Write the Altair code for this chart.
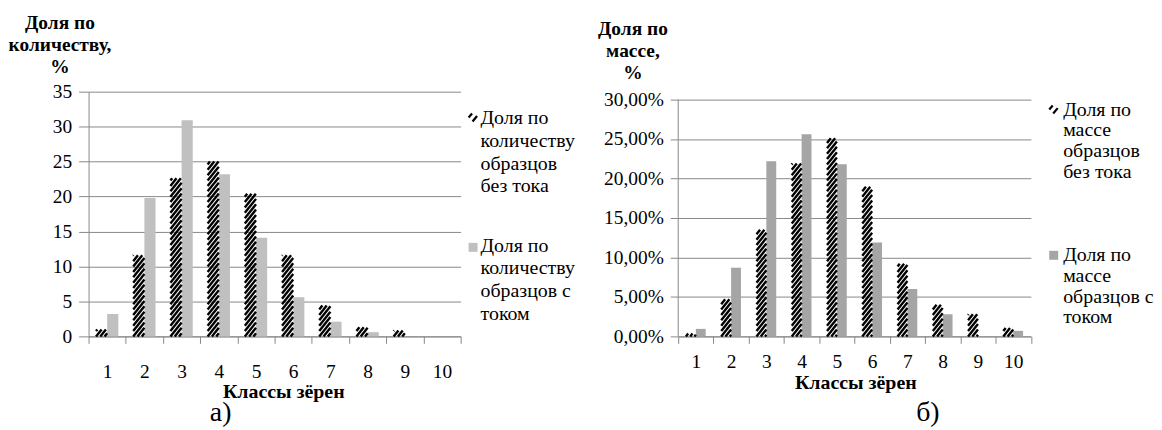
import math
import altair as alt
import pandas as pd

# ---------------- data ----------------
classes = [1, 2, 3, 4, 5, 6, 7, 8, 9, 10]
count_no_current = [1.0, 11.6, 22.6, 25.0, 20.4, 11.6, 4.4, 1.3, 0.85, 0.0]
count_current = [3.2, 19.8, 30.9, 23.2, 14.1, 5.6, 2.1, 0.6, 0.0, 0.0]
mass_no_current = [0.35, 4.7, 13.5, 21.9, 25.1, 18.95, 9.2, 4.0, 2.8, 1.05]
mass_current = [0.95, 8.7, 22.2, 25.6, 21.8, 11.9, 6.0, 2.8, 0.0, 0.7]

left_y_ticks = [0, 5, 10, 15, 20, 25, 30, 35]
right_y_ticks = [0, 5, 10, 15, 20, 25, 30]
x_boundaries = [0.5, 1.5, 2.5, 3.5, 4.5, 5.5, 6.5, 7.5, 8.5, 9.5, 10.5]

x_title = "Классы зёрен"
left_y_title = ["Доля по", "количеству,", "%"]
right_y_title = ["Доля по", "массе,", "%"]
left_legend = ["Доля по\nколичеству\nобразцов\nбез тока", "Доля по\nколичеству\nобразцов с\nтоком"]
right_legend = ["Доля по\nмассе\nобразцов\nбез тока", "Доля по\nмассе\nобразцов с\nтоком"]
left_caption = "а)"
right_caption = "б)"

FONT = "Liberation Serif"
GRID = "#888888"
H = 246


def stripes(vals, bw, kx, ky, period=5.4, slope=1.25):
    rows = []
    wpx = bw * kx
    for c, v in zip(classes, vals):
        hpx = v * ky
        if hpx <= 0:
            continue
        n = math.floor(-slope * wpx / period)
        while n * period <= hpx:
            h = n * period
            xs = max(0.0, -h / slope)
            xe = min(wpx, (hpx - h) / slope)
            if xe > xs + 0.4:
                rows.append({"x": c - bw + xs / kx, "y": (h + slope * xs) / ky,
                             "x2": c - bw + xe / kx, "y2": (h + slope * xe) / ky})
            n += 1
    return pd.DataFrame(rows)


def text_layer(text, x, y, size, align="left", lh=None, baseline="alphabetic"):
    kw = dict(font=FONT, fontSize=size, align=align, baseline=baseline,
              lineBreak="\n", color="black")
    if lh:
        kw["lineHeight"] = lh
    return alt.Chart(pd.DataFrame({"t": [text]})).mark_text(**kw).encode(
        x=alt.value(x), y=alt.value(y), text="t:N")


def panel(no_cur, cur, W, ymax, yticks, yfmt, gray, bw, tick_y, label_pad_x,
          title_x, title_y, ytitle, ytitle_x, ytitle_y, legend, leg_x, leg_y, leg_lh,
          mark_x, hatch_y, sq_y, caption, cap_x, axis_domain):
    kx = W / 10.0
    ky = H / ymax
    xscale = alt.Scale(domain=[0.5, 10.5], nice=False, zero=False)
    yscale = alt.Scale(domain=[0, ymax], nice=False)
    xaxis = alt.Axis(values=x_boundaries, title=x_title, grid=False, tickSize=7,
                     labelExpr="datum.value < 10 ? format(datum.value + 0.5, 'd') : ''",
                     labelOffset=kx / 2, labelFlush=False, labelOverlap=False,
                     labelBaseline="middle", labelPadding=label_pad_x,
                     titleX=title_x, titleY=title_y, titleAlign="center",
                     titleBaseline="alphabetic")
    yaxis = alt.Axis(values=yticks, title=ytitle, grid=True, tickSize=tick_y,
                     labelPadding=7, labelExpr=yfmt, domain=axis_domain,
                     labelOverlap=False, labelFlush=False,
                     titleAngle=0, titleAlign="center", titleBaseline="alphabetic",
                     titleX=ytitle_x, titleY=ytitle_y, titleLineHeight=22,
                     titleFontSize=19.5)

    gdf = pd.DataFrame({"x0": classes, "x1": [c + bw for c in classes], "v": cur})
    gdf["z"] = 0.0
    bars = alt.Chart(gdf).mark_rect(color=gray).encode(
        x=alt.X("x0:Q", scale=xscale, axis=xaxis), x2="x1:Q",
        y=alt.Y("z:Q", scale=yscale, axis=yaxis), y2="v:Q")

    sdf = stripes(no_cur, bw, kx, ky)
    hatch = alt.Chart(sdf).mark_rule(color="black", strokeWidth=2.4, strokeCap="butt").encode(
        x=alt.X("x:Q", scale=xscale, axis=xaxis), x2="x2:Q",
        y=alt.Y("y:Q", scale=yscale, axis=yaxis), y2="y2:Q")

    layers = [bars, hatch]
    if not axis_domain:
        ddf = pd.DataFrame({"x": [0.5], "y": [0.0], "y2": [float(yticks[-1])]})
        layers.append(alt.Chart(ddf).mark_rule(color=GRID, strokeWidth=1).encode(
            x=alt.X("x:Q", scale=xscale, axis=xaxis),
            y=alt.Y("y:Q", scale=yscale, axis=yaxis), y2="y2:Q"))

    one = pd.DataFrame({"a": [0]})
    # legend markers
    layers.append(alt.Chart(one).mark_rule(color="black", strokeWidth=2.2).encode(
        x=alt.value(mark_x), x2=alt.value(mark_x + 3.5),
        y=alt.value(hatch_y + 4), y2=alt.value(hatch_y)))
    layers.append(alt.Chart(one).mark_rule(color="black", strokeWidth=2.2).encode(
        x=alt.value(mark_x + 4), x2=alt.value(mark_x + 8.5),
        y=alt.value(hatch_y + 8), y2=alt.value(hatch_y + 2.5)))
    layers.append(alt.Chart(one).mark_rect(color=gray).encode(
        x=alt.value(mark_x), x2=alt.value(mark_x + 9),
        y=alt.value(sq_y), y2=alt.value(sq_y + 9)))
    layers.append(text_layer(legend[0], leg_x, leg_y[0], 20, lh=leg_lh))
    layers.append(text_layer(legend[1], leg_x, leg_y[1], 20, lh=leg_lh))
    layers.append(text_layer(caption, cap_x, 323, 28, align="center", baseline="middle"))
    return alt.layer(*layers).properties(width=W, height=H)


left = panel(count_no_current, count_current, 374, 35, left_y_ticks,
             "format(datum.value, 'd')", "#c0c0c0", 0.3, 10, 28,
             195.7, 61.3, left_y_title, -29.3, -63, left_legend, 394, [33, 161], 22.7,
             382, 22, 152, left_caption, 132.7, True)

right = panel(mass_no_current, mass_current, 354.5, 31, right_y_ticks,
              "replace(format(datum.value, '.2f'), '.', ',') + '%'", "#a5a5a5", 0.28, 8, 18.5,
              178, 52.3, right_y_title, -46, -57.7, right_legend, 387, [24, 170], 21,
              373, 14, 160, right_caption, 251, False)

chart = alt.hconcat(left, right, spacing=218.7, bounds="flush").properties(
    padding={"left": 0, "top": 4, "right": 0, "bottom": 0}
).configure_view(stroke=None).configure_axis(
    labelFont=FONT, labelFontSize=19.5, labelColor="black",
    titleFont=FONT, titleFontSize=20, titleFontWeight="bold", titleColor="black",
    domainColor=GRID, tickColor=GRID, gridColor=GRID,
    domainWidth=1, tickWidth=1, gridWidth=1)

chart.save("out.html", embed_options={"renderer": "svg", "actions": False})
